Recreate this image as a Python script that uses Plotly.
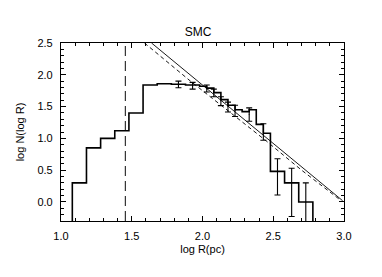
import plotly.graph_objects as go

# Histogram (bin edges and log N heights)
bin_edges = [1.08, 1.18, 1.28, 1.38, 1.48, 1.58, 1.68, 1.78, 1.88, 1.98, 2.03, 2.08,
             2.13, 2.18, 2.23, 2.28, 2.33, 2.38, 2.43, 2.48, 2.58, 2.68, 2.78]
bin_heights = [0.30, 0.85, 1.00, 1.12, 1.40, 1.84, 1.86, 1.85, 1.84, 1.82, 1.79, 1.72,
               1.61, 1.52, 1.45, 1.42, 1.45, 1.22, 1.08, 0.48, 0.30, 0.00]

# Points with asymmetric error bars
err_x = [1.83, 1.93, 2.03, 2.08, 2.13, 2.18, 2.23, 2.33, 2.43, 2.53, 2.63, 2.73]
err_y = [1.85, 1.83, 1.79, 1.72, 1.59, 1.50, 1.44, 1.38, 1.11, 0.48, 0.30, 0.00]
err_plus = [0.05, 0.05, 0.05, 0.055, 0.065, 0.07, 0.08, 0.10, 0.12, 0.20, 0.23, 0.30]
err_minus = [0.055, 0.055, 0.06, 0.065, 0.075, 0.085, 0.095, 0.11, 0.14, 0.37, 0.53, 1.00]

# Fitted power-law lines
fit_solid_x = [1.64, 2.99]
fit_solid_y = [2.50, 0.02]
fit_dash_x = [1.59, 1.915, 2.2, 2.45, 2.7, 2.98]
fit_dash_y = [2.50, 1.90, 1.40, 0.96, 0.50, 0.02]

# Vertical completeness limit
vline_x = 1.455

x_ticks = [1.0, 1.5, 2.0, 2.5, 3.0]
y_ticks = [0.0, 0.5, 1.0, 1.5, 2.0, 2.5]

# build step coordinates
hx, hy = [bin_edges[0]], [-0.3]
for i, h in enumerate(bin_heights):
    hx += [bin_edges[i], bin_edges[i + 1]]
    hy += [h, h]
hx.append(bin_edges[-1])
hy.append(-0.3)

fig = go.Figure()
fig.add_trace(go.Scatter(x=[vline_x, vline_x], y=[-0.3, 2.5], mode="lines",
                         line=dict(color="#333333", width=1.2, dash="10px,5px"),
                         showlegend=False))
fig.add_trace(go.Scatter(x=hx, y=hy, mode="lines",
                         line=dict(color="black", width=1.6), showlegend=False))
fig.add_trace(go.Scatter(x=fit_solid_x, y=fit_solid_y, mode="lines",
                         line=dict(color="black", width=0.9), showlegend=False))
fig.add_trace(go.Scatter(x=fit_dash_x, y=fit_dash_y, mode="lines",
                         line=dict(color="black", width=0.9, dash="4px,3px"),
                         showlegend=False))
fig.add_trace(go.Scatter(x=err_x, y=err_y, mode="markers",
                         marker=dict(size=1, color="black"),
                         error_y=dict(type="data", symmetric=False, array=err_plus,
                                      arrayminus=err_minus, color="black",
                                      thickness=1.1, width=3),
                         showlegend=False))

font = "Liberation Sans, Arial, Helvetica, sans-serif"
# page body has an 8px default margin; figure sized so the plot lands where the reference's does
fig.update_layout(
    width=374, height=269,
    margin=dict(l=46, r=38, t=35, b=56),
    paper_bgcolor="white", plot_bgcolor="white",
    title=dict(text="SMC", x=0.508, xanchor="center", y=0.911, yanchor="middle",
               font=dict(family=font, size=12, color="black")),
    font=dict(family=font, size=11, color="black"),
)
fig.update_xaxes(range=[1.0, 3.0], tickvals=x_ticks, ticktext=[f"{v:.1f}" for v in x_ticks],
                 showgrid=False, zeroline=False, showline=True, linecolor="black",
                 linewidth=1.2, mirror="ticks", ticks="inside", ticklen=5,
                 tickcolor="black", tickwidth=1, ticklabelstandoff=5,
                 minor=dict(dtick=0.1, tick0=1.0, ticks="inside", ticklen=3,
                            tickcolor="black", showgrid=False),
                 title=dict(text="log R(pc)", standoff=4, font=dict(size=11)),
                 tickfont=dict(size=11))
fig.update_yaxes(range=[-0.3, 2.5], tickvals=y_ticks, ticktext=[f"{v:.1f}" for v in y_ticks],
                 showgrid=False, zeroline=False, showline=True, linecolor="black",
                 linewidth=1.2, mirror="ticks", ticks="inside", ticklen=5,
                 tickcolor="black", tickwidth=1, ticklabelstandoff=5,
                 minor=dict(dtick=0.1, tick0=0.0, ticks="inside", ticklen=3,
                            tickcolor="black", showgrid=False),
                 title=dict(text="log N(log R)", standoff=10, font=dict(size=11)),
                 tickfont=dict(size=11))

fig.write_html("out.html")
